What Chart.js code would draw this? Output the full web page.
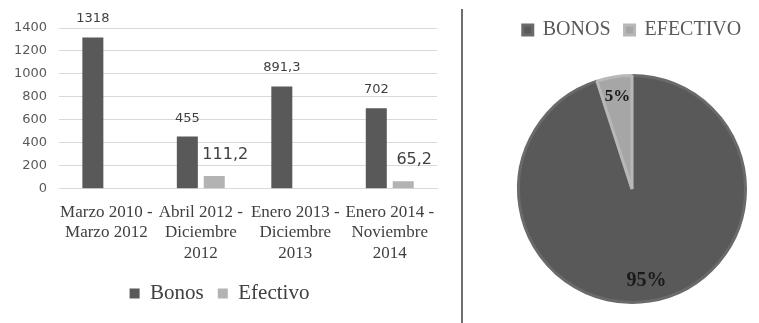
<!DOCTYPE html>
<html>
<head>
<meta charset="utf-8">
<script src="https://cdn.jsdelivr.net/npm/chart.js@4.4.0/dist/chart.umd.min.js"></script>
<style>
  html, body { margin: 0; padding: 0; background: #fff; }
  #wrap { position: relative; width: 759px; height: 323px; }
  #barBox { position: absolute; left: 0; top: 0; width: 460px; height: 323px; }
  #pieBox { position: absolute; left: 463px; top: 0; width: 296px; height: 323px; }
  #sep { position: absolute; left: 461px; top: 9px; width: 2px; height: 314px; background: #6e6e6e; }
</style>
</head>
<body>
<div id="wrap">
  <div id="barBox"><canvas id="barChart"></canvas></div>
  <div id="sep"></div>
  <div id="pieBox"><canvas id="pieChart"></canvas></div>
</div>
<script>
// datos del grafico de barras
const periodos = [
    ["Marzo 2010 -", "Marzo 2012"],
    ["Abril 2012 -", "Diciembre", "2012"],
    ["Enero 2013 -", "Diciembre", "2013"],
    ["Enero 2014 -", "Noviembre", "2014"]
];
const bonos = [1318, 455, 891.3, 702];
const efectivo = [null, 111.2, null, 65.2];
const yTicks = [0, 200, 400, 600, 800, 1000, 1200, 1400];

// datos del pie
const pieLabels = ["BONOS", "EFECTIVO"];
const pieValues = [95, 5];

const gris = "#595959";
const grisClaro = "#a6a6a6";
const serif = "'Liberation Serif', 'DejaVu Serif', serif";
const sans = "'DejaVu Sans', sans-serif";

const fmt = (v) => String(v).replace(".", ",");

// etiquetas sobre las barras
const etiquetasBarras = {
    id: "etiquetasBarras",
    afterDatasetsDraw(chart) {
        const ctx = chart.ctx;
        ctx.save();
        ctx.textAlign = "center";
        ctx.textBaseline = "alphabetic";
        ctx.fillStyle = "#404040";
        chart.data.datasets.forEach((ds, i) => {
            const meta = chart.getDatasetMeta(i);
            meta.data.forEach((bar, j) => {
                const v = ds.data[j];
                if (v === null) return;
                if (i === 0) {
                    ctx.font = "13px " + sans;
                    ctx.fillText(fmt(v), bar.x, bar.y - 15);
                } else {
                    ctx.font = "16px " + sans;
                    ctx.fillText(fmt(v), bar.x + 11, bar.y - 17);
                }
            });
        });
        ctx.restore();
    }
};

const etiquetasPie = {
    id: "etiquetasPie",
    afterDatasetsDraw(chart) {
        const ctx = chart.ctx;
        const meta = chart.getDatasetMeta(0);
        ctx.save();
        ctx.textAlign = "center";
        ctx.textBaseline = "middle";
        ctx.fillStyle = "#1a1a1a";
        meta.data.forEach((arc, j) => {
            const a = (arc.startAngle + arc.endAngle) / 2;
            const r = arc.outerRadius * 0.82;
            ctx.font = (j === 0 ? "bold 20px " : "bold 17px ") + serif;
            ctx.fillText(pieValues[j] + "%", arc.x + Math.cos(a) * r, arc.y + Math.sin(a) * r);
        });
        ctx.restore();
    }
};

// mas espacio bajo la leyenda del pie
const espacioLeyenda = {
    id: "espacioLeyenda",
    beforeInit(chart) {
        const fitOriginal = chart.legend.fit;
        chart.legend.fit = function () {
            fitOriginal.bind(chart.legend)();
            this.height += 24;
        };
    }
};

new Chart(document.getElementById("barChart"), {
    type: "bar",
    data: {
        labels: periodos,
        datasets: [
            { label: "Bonos", data: bonos, backgroundColor: gris, categoryPercentage: 0.57, barPercentage: 0.78 },
            { label: "Efectivo", data: efectivo, backgroundColor: "#b3b3b3", categoryPercentage: 0.57, barPercentage: 0.78 }
        ]
    },
    options: {
        responsive: true,
        maintainAspectRatio: false,
        animation: false,
        layout: { padding: { left: 2, right: 23, top: 28, bottom: 9 } },
        plugins: {
            tooltip: { enabled: false },
            legend: {
                position: "bottom",
                labels: {
                    boxWidth: 10, boxHeight: 10, padding: 14,
                    color: "#404040",
                    font: { family: serif, size: 21 }
                }
            }
        },
        scales: {
            x: {
                grid: { display: false },
                border: { color: "#d9d9d9" },
                ticks: {
                    color: "#404040",
                    maxRotation: 0,
                    autoSkip: false,
                    padding: 5,
                    font: { family: serif, size: 17, lineHeight: 1.22 }
                }
            },
            y: {
                min: 0,
                max: 1400,
                afterBuildTicks: (axis) => { axis.ticks = yTicks.map(v => ({ value: v })); },
                grid: { color: "#d9d9d9", drawTicks: false },
                border: { display: false },
                ticks: {
                    color: gris,
                    padding: 12,
                    font: { family: sans, size: 13 },
                    callback: (v) => String(v)
                }
            }
        }
    },
    plugins: [etiquetasBarras]
});

new Chart(document.getElementById("pieChart"), {
    type: "pie",
    data: {
        labels: pieLabels,
        datasets: [{
            data: pieValues,
            backgroundColor: [gris, grisClaro],
            borderColor: ["#6a6a6a", "#b8b8b8"],
            borderWidth: 3
        }]
    },
    options: {
        responsive: true,
        maintainAspectRatio: false,
        animation: false,
        layout: { padding: { left: 42, right: 0, top: 6, bottom: 19 } },
        plugins: {
            tooltip: { enabled: false },
            legend: {
                position: "top",
                labels: {
                    boxWidth: 10, boxHeight: 10, padding: 14,
                    color: "#595959",
                    font: { family: serif, size: 20 }
                }
            }
        }
    },
    plugins: [etiquetasPie, espacioLeyenda]
});
</script>
</body>
</html>
